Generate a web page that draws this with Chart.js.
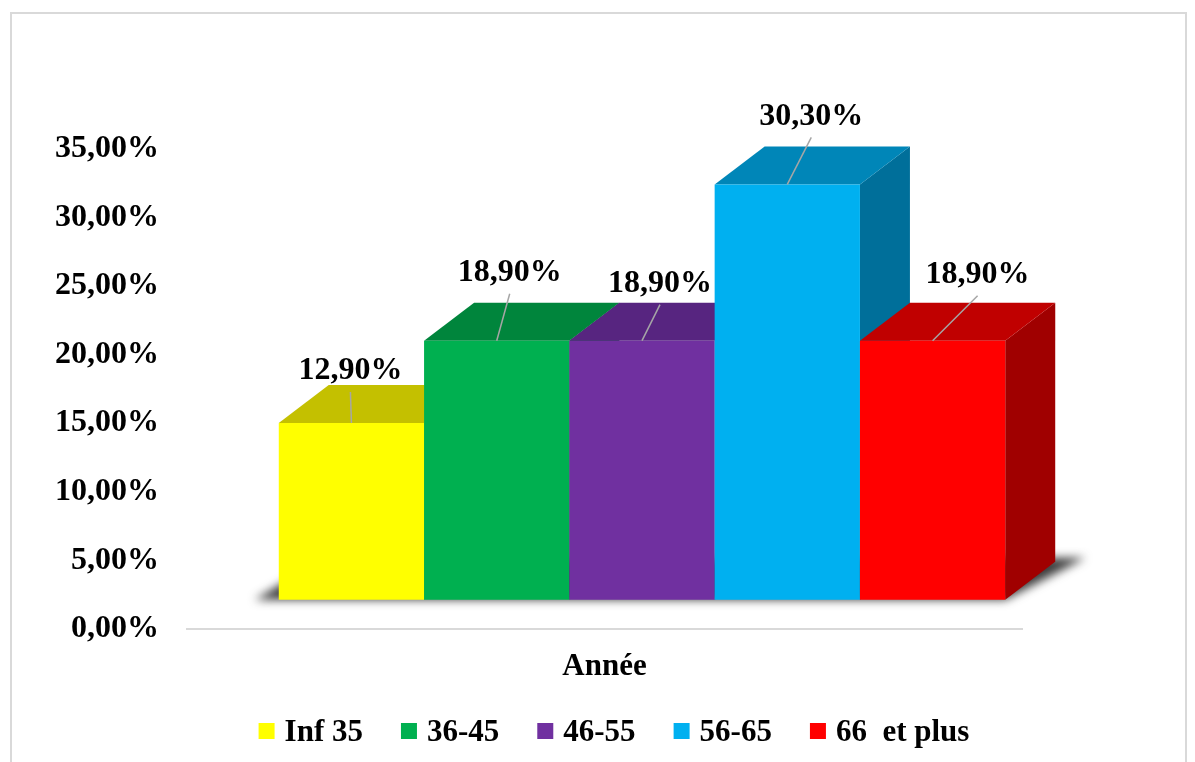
<!DOCTYPE html>
<html>
<head>
<meta charset="utf-8">
<script src="https://cdn.jsdelivr.net/npm/chart.js@4.4.0/dist/chart.umd.min.js"></script>
<style>
  html, body { margin: 0; padding: 0; background: #fff; }
</style>
</head>
<body>
<canvas id="myBarChart" width="1195" height="762"></canvas>
<script>
// data
const categories = ['Année'];
const groups = ['Inf 35', '36-45', '46-55', '56-65', '66  et plus'];
const values = [12.9, 18.9, 18.9, 30.3, 18.9];
const yTicks = [0, 5, 10, 15, 20, 25, 30, 35];

// styling
const frontColors = ['#FFFF00', '#00B050', '#7030A0', '#00B0F0', '#FF0000'];
const topColors = ['#C4C000', '#00853C', '#572580', '#0086B8', '#C00000'];
const sideColors = ['#9E9B00', '#006B30', '#451D66', '#006F9A', '#A00000'];
const labelShift = [[-1, -52], [13, -68], [18, -57], [24, -68], [45, -66]];

const FONT = '"Liberation Serif", "Times New Roman", serif';
const DX = 50, DY = -38;      // depth of the 3d boxes
const SX = 37.5, SY = -29;    // front face offset from the axis plane

const fmt = v => v.toFixed(2).replace('.', ',') + '%';

const framePlugin = {
  id: 'frame',
  beforeDraw(chart) {
    const ctx = chart.ctx;
    ctx.save();
    ctx.fillStyle = '#fff';
    ctx.fillRect(0, 0, chart.width, chart.height);
    ctx.strokeStyle = '#d9d9d9';
    ctx.lineWidth = 2;
    ctx.strokeRect(11, 13, 1175, 760);
    ctx.restore();
  }
};

const bars3d = {
  id: 'bars3d',
  beforeDatasetsDraw(chart) {
    const ctx = chart.ctx;
    const els = groups.map((g, i) => chart.getDatasetMeta(i).data[0]);
    const first = els[0], last = els[els.length - 1];
    const L = first.x - first.width / 2 + SX;
    const R = last.x + last.width / 2 + SX;
    const B = first.base + SY;

    // floor shadow
    ctx.save();
    ctx.filter = 'blur(5px)';
    ctx.fillStyle = 'rgba(40,40,40,0.9)';
    ctx.beginPath();
    ctx.moveTo(L - 24, B);
    ctx.lineTo(R, B);
    ctx.lineTo(R + DX + 30, B + DY - 4);
    ctx.lineTo(L + DX - 10, B + DY);
    ctx.closePath();
    ctx.fill();
    ctx.restore();

    els.forEach((el, i) => {
      const l = el.x - el.width / 2 + SX;
      const r = l + el.width;
      const t = el.y + SY;
      const b = el.base + SY;
      ctx.save();
      ctx.fillStyle = sideColors[i];
      ctx.beginPath();
      ctx.moveTo(r, t); ctx.lineTo(r + DX, t + DY); ctx.lineTo(r + DX, b + DY); ctx.lineTo(r, b);
      ctx.closePath(); ctx.fill();
      ctx.fillStyle = topColors[i];
      ctx.beginPath();
      ctx.moveTo(l, t); ctx.lineTo(r, t); ctx.lineTo(r + DX, t + DY); ctx.lineTo(l + DX, t + DY);
      ctx.closePath(); ctx.fill();
      ctx.translate(SX, SY);
      el.draw(ctx);
      ctx.restore();
    });
    return false;
  },
  afterDraw(chart) {
    const ctx = chart.ctx;
    ctx.save();
    ctx.font = 'bold 32px ' + FONT;
    ctx.textAlign = 'center';
    ctx.textBaseline = 'middle';
    groups.forEach((g, i) => {
      const el = chart.getDatasetMeta(i).data[0];
      const cx = el.x + SX, t = el.y + SY;
      const lx = cx + labelShift[i][0], ly = t + labelShift[i][1];
      ctx.strokeStyle = '#a6a6a6';
      ctx.lineWidth = 1.5;
      ctx.beginPath();
      ctx.moveTo(lx, ly + 21);
      ctx.lineTo(cx, t);
      ctx.stroke();
      ctx.fillStyle = '#000';
      ctx.fillText(fmt(chart.data.datasets[i].data[0]), lx, ly);
    });

    // legend
    ctx.font = 'bold 31px ' + FONT;
    ctx.textAlign = 'left';
    ctx.textBaseline = 'alphabetic';
    const widths = groups.map(g => 26 + ctx.measureText(g).width);
    const total = widths.reduce((a, b) => a + b, 0) + 38 * (groups.length - 1);
    let x = 614 - total / 2;
    groups.forEach((g, i) => {
      ctx.fillStyle = frontColors[i];
      ctx.fillRect(x, 723, 16, 16);
      ctx.fillStyle = '#000';
      ctx.fillText(g, x + 26, 741);
      x += widths[i] + 38;
    });
    ctx.restore();
  }
};

var ctx = document.getElementById('myBarChart');

var myBarChart = new Chart(ctx, {
  type: 'bar',
  data: {
    labels: categories,
    datasets: groups.map((g, i) => ({
      label: g,
      data: [values[i]],
      backgroundColor: frontColors[i],
      borderWidth: 0,
      categoryPercentage: 0.87,
      barPercentage: 1
    }))
  },
  options: {
    responsive: false,
    animation: false,
    layout: {
      padding: { left: 27, right: 173, top: 149, bottom: 56 }
    },
    plugins: {
      legend: { display: false },
      tooltip: { enabled: false }
    },
    scales: {
      x: {
        grid: { display: false, drawTicks: false },
        border: { display: true, color: '#d9d9d9', width: 2 },
        ticks: {
          color: '#000',
          padding: 20,
          font: { family: FONT, size: 31, weight: 'bold' }
        }
      },
      y: {
        min: 0,
        max: 35,
        afterBuildTicks: scale => { scale.ticks = yTicks.map(v => ({ value: v })); },
        grid: { display: false, drawTicks: false },
        border: { display: false },
        ticks: {
          color: '#000',
          padding: 28,
          font: { family: FONT, size: 32, weight: 'bold' },
          callback: v => fmt(v)
        }
      }
    }
  },
  plugins: [framePlugin, bars3d]
});
</script>
</body>
</html>
